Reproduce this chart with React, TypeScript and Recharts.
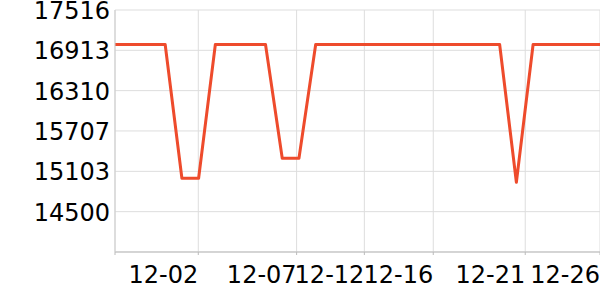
import React from "react";
import { LineChart, Line, XAxis, YAxis, CartesianGrid } from "recharts";

const values = [
  17000, 17000, 17000, 17000, 15000, 15000, 17000, 17000, 17000, 17000,
  15300, 15300, 17000, 17000, 17000, 17000, 17000, 17000, 17000, 17000,
  17000, 17000, 17000, 17000, 14940, 17000, 17000, 17000, 17000, 17000,
];

const xTickPos = [0, 4.98, 10.86, 14.91, 19.03, 24.53, 29];
const xTickLabels = ["", "12-02", "12-07", "12-12", "12-16", "12-21", "12-26"];

const yTicks = [13896.8, 14500, 15103, 15707, 16310, 16913, 17516];

const data = values.map((v, i) => ({ x: i, value: v }));

const FONT = "DejaVu Sans, sans-serif";

const XTick = (props: any) => {
  const { x, y, payload, index } = props;
  const label = xTickLabels[index] ?? "";
  if (!label) return null;
  return (
    <text x={x} y={283} textAnchor="end" fontSize={24} fontFamily={FONT} fill="#000">
      {label}
    </text>
  );
};

const YTick = (props: any) => {
  const { y, payload, index } = props;
  if (index === 0) return null;
  return (
    <text x={110} y={y} dy={9} textAnchor="end" fontSize={24} fontFamily={FONT} fill="#000">
      {Math.round(payload.value)}
    </text>
  );
};

export default function App() {
  return (
    <div style={{ position: "absolute", left: 0, top: 0, width: 600, height: 300, background: "#fff" }}>
      <LineChart width={600} height={300} data={data} margin={{ top: 10, right: 0, left: 0, bottom: 0 }}>
        <CartesianGrid stroke="#dddddd" />
        <XAxis
          dataKey="x"
          type="number"
          domain={[0, 29]}
          ticks={xTickPos}
          interval={0}
          height={48}
          stroke="#bbbbbb"
          tickSize={3}
          tick={<XTick />}
        />
        <YAxis
          type="number"
          domain={[13896.8, 17516]}
          ticks={yTicks}
          interval={0}
          width={115}
          stroke="#cccccc"
          tickLine={false}
          tick={<YTick />}
        />
        <Line
          type="linear"
          dataKey="value"
          stroke="#ee4b2c"
          strokeWidth={3}
          strokeLinejoin="round"
          dot={false}
          isAnimationActive={false}
        />
      </LineChart>
    </div>
  );
}
